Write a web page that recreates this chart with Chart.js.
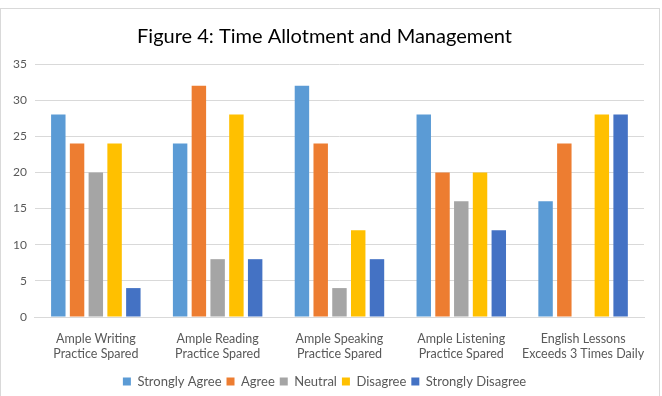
<!DOCTYPE html>
<html>
<head>
<meta charset="utf-8">
<script src="https://cdn.jsdelivr.net/npm/chart.js@4"></script>
<style>
  html, body { margin: 0; padding: 0; background: #fff; overflow: hidden; }
  #wrap { position: absolute; left: 0; top: 8px; width: 660px; height: 392px; border: 1px solid #d9d9d9; box-sizing: border-box; }
</style>
</head>
<body>
<div id="wrap"><canvas id="myChart"></canvas></div>
<script>
var categories = [
  ["Ample Writing", "Practice Spared"],
  ["Ample Reading", "Practice Spared"],
  ["Ample Speaking", "Practice Spared"],
  ["Ample Listening", "Practice Spared"],
  ["English Lessons", "Exceeds 3 Times Daily"]
];
var stronglyAgree = [28, 24, 32, 28, 16];
var agree = [24, 32, 24, 20, 24];
var neutral = [20, 8, 4, 16, 0];
var disagree = [24, 28, 12, 20, 28];
var stronglyDisagree = [4, 8, 8, 12, 28];
var barColors = ["#5B9BD5", "#ED7D31", "#A5A5A5", "#FFC000", "#4472C4"];

Chart.defaults.font.family = "Lato, 'Open Sans', sans-serif";
Chart.defaults.color = "#595959";

function ds(label, data, i) {
  return {
    label: label,
    data: data,
    backgroundColor: barColors[i],
    categoryPercentage: 0.77,
    barPercentage: 0.77
  };
}

new Chart("myChart", {
  type: "bar",
  data: {
    labels: categories,
    datasets: [
      ds("Strongly Agree", stronglyAgree, 0),
      ds("Agree", agree, 1),
      ds("Neutral", neutral, 2),
      ds("Disagree", disagree, 3),
      ds("Strongly Disagree", stronglyDisagree, 4)
    ]
  },
  options: {
    responsive: true,
    maintainAspectRatio: false,
    animation: false,
    layout: { padding: { left: 4, right: 15, top: 4, bottom: 1 } },
    plugins: {
      title: {
        display: true,
        text: "Figure 4: Time Allotment and Management",
        color: "#000",
        font: { size: 20, weight: "normal" },
        padding: { top: 12, bottom: 15 }
      },
      legend: {
        position: "bottom",
        labels: { boxWidth: 8, boxHeight: 8, font: { size: 13 }, padding: 5 }
      },
      tooltip: { enabled: false }
    },
    scales: {
      x: {
        grid: { display: false },
        border: { color: "#d9d9d9" },
        ticks: { font: { size: 12.5 }, maxRotation: 0, autoSkip: false, padding: 6 },
        afterFit: function (scale) { scale.height = 53; }
      },
      y: {
        min: 0,
        max: 35,
        ticks: { stepSize: 5, font: { size: 12 }, padding: 8 },
        grid: { color: "#d9d9d9", drawTicks: false },
        border: { display: false }
      }
    }
  }
});
</script>
</body>
</html>
